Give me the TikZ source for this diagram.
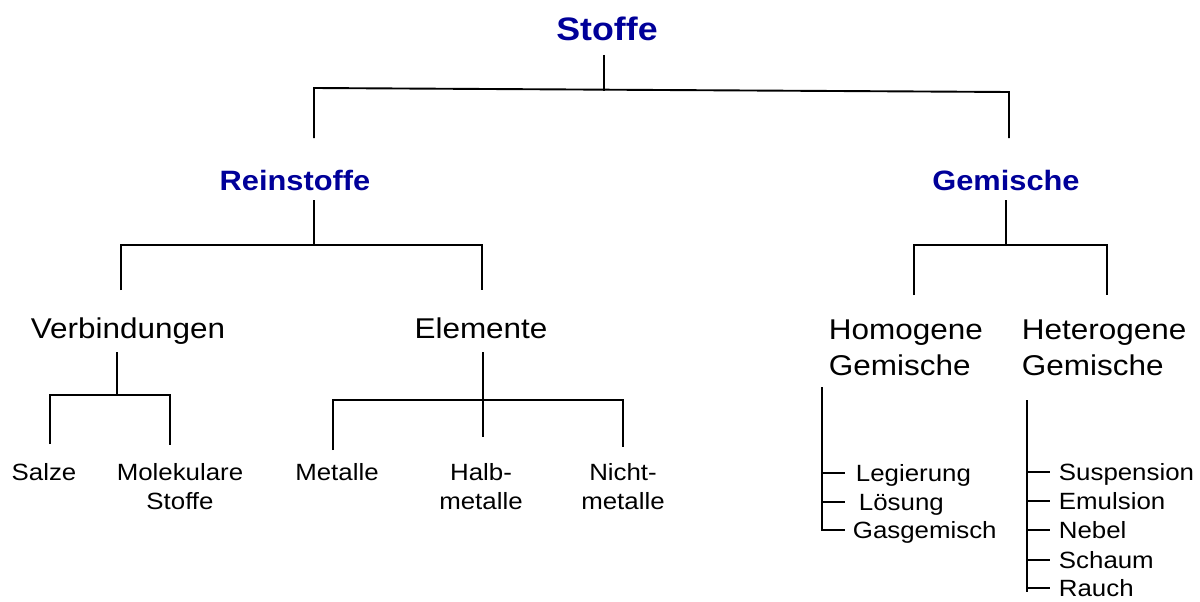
\documentclass[tikz,border=0pt]{standalone}
\usepackage{fontspec}
\setmainfont{Liberation Sans}[FakeStretch=1.1]
\usetikzlibrary{calc}
\definecolor{stoffblau}{RGB}{0,0,153}

\begin{document}
\begin{tikzpicture}[x=1pt,y=-1pt,line width=1.9pt]
\tikzstyle{haupt} = [anchor=base, inner sep=0pt, text=stoffblau, font=\bfseries\fontsize{32.5}{38}\selectfont]
\tikzstyle{kopf} = [anchor=base, inner sep=0pt, text=stoffblau, font=\bfseries\fontsize{28}{34}\selectfont]
\tikzstyle{mitte} = [anchor=base, inner sep=0pt, align=center, font=\fontsize{28.6}{36}\selectfont]
\tikzstyle{blatt} = [anchor=base, inner sep=0pt, align=center, font=\fontsize{23.5}{29}\selectfont]
\useasboundingbox (0,0) rectangle (1200,602);

% Stoffe
\node[haupt] (stoffe) at (607,41) {Stoffe};
\coordinate (S1) at (604,55);
\coordinate (S2) at (604,91);
\coordinate (RL) at (314,88);
\coordinate (GR) at (1009,92);
\draw (S1) -- (S2);
\draw ($(RL)+(0,50)$) -- (RL) -- (GR) -- ($(GR)+(0,46)$);

% Reinstoffe / Gemische
\node[kopf] (rein) at (295,190) {Reinstoffe};
\node[kopf] (gem) at (1006,190) {Gemische};
\coordinate (R1) at (314,200);
\coordinate (R2) at (314,245);
\coordinate (VL) at (121,245);
\coordinate (ER) at (482,245);
\draw (R1) -- (R2);
\draw ($(VL)+(0,45)$) -- (VL) -- (ER) -- ($(ER)+(0,45)$);
\coordinate (G1) at (1006,200);
\coordinate (G2) at (1006,245);
\coordinate (HoL) at (914,245);
\coordinate (HeR) at (1107,245);
\draw (G1) -- (G2);
\draw ($(HoL)+(0,50)$) -- (HoL) -- (HeR) -- ($(HeR)+(0,50)$);

% dritte Ebene (zweizeilig: Grundlinie der letzten Zeile)
\node[mitte] (verb) at (128,338) {Verbindungen};
\node[mitte] (elem) at (481,338) {Elemente};
\node[mitte, anchor=base west, align=left] (homo) at (828,375) {Homogene\\Gemische};
\node[mitte, anchor=base west, align=left] (hetero) at (1021,375) {Heterogene\\Gemische};

% Verbindungen
\coordinate (V1) at (117,352);
\coordinate (V2) at (117,395);
\coordinate (SaL) at (50,395);
\coordinate (MoR) at (170,395);
\draw (V1) -- (V2);
\draw ($(SaL)+(0,49)$) -- (SaL) -- (MoR) -- ($(MoR)+(0,50)$);
\node[blatt] (salze) at (44,480) {Salze};
\node[blatt] (molek) at (180,509) {Molekulare\\Stoffe};

% Elemente
\coordinate (E1) at (483,352);
\coordinate (E2) at (483,437);
\coordinate (MeL) at (333,400);
\coordinate (NiR) at (623,400);
\draw (E1) -- (E2);
\draw ($(MeL)+(0,50)$) -- (MeL) -- (NiR) -- ($(NiR)+(0,47)$);
\node[blatt] (metalle) at (337,480) {Metalle};
\node[blatt] (halb) at (481,509) {Halb-\\metalle};
\node[blatt] (nicht) at (623,509) {Nicht-\\metalle};

% Homogene Gemische
\coordinate (Ho1) at (822,387);
\coordinate (Ho2) at (822,530);
\draw (Ho1) -- (Ho2) -- ++(23,0);
\draw (822,473) -- ++(23,0);
\draw (822,502) -- ++(23,0);
\node[blatt, anchor=base west] (leg) at (855,481) {Legierung};
\node[blatt, anchor=base west] (loes) at (858,510) {Lösung};
\node[blatt, anchor=base west] (gas) at (852,538) {Gasgemisch};

% Heterogene Gemische
\coordinate (He1) at (1027,400);
\coordinate (He2) at (1027,592);
\draw (He1) -- (He2);
\foreach \y/\name in {472/Suspension, 501/Emulsion, 530/Nebel, 560/Schaum, 588/Rauch}
{
  \draw (1027,\y) -- ++(23,0);
  \node[blatt, anchor=base west] at (1058,\y+8) {\name};
}
\end{tikzpicture}
\end{document}
